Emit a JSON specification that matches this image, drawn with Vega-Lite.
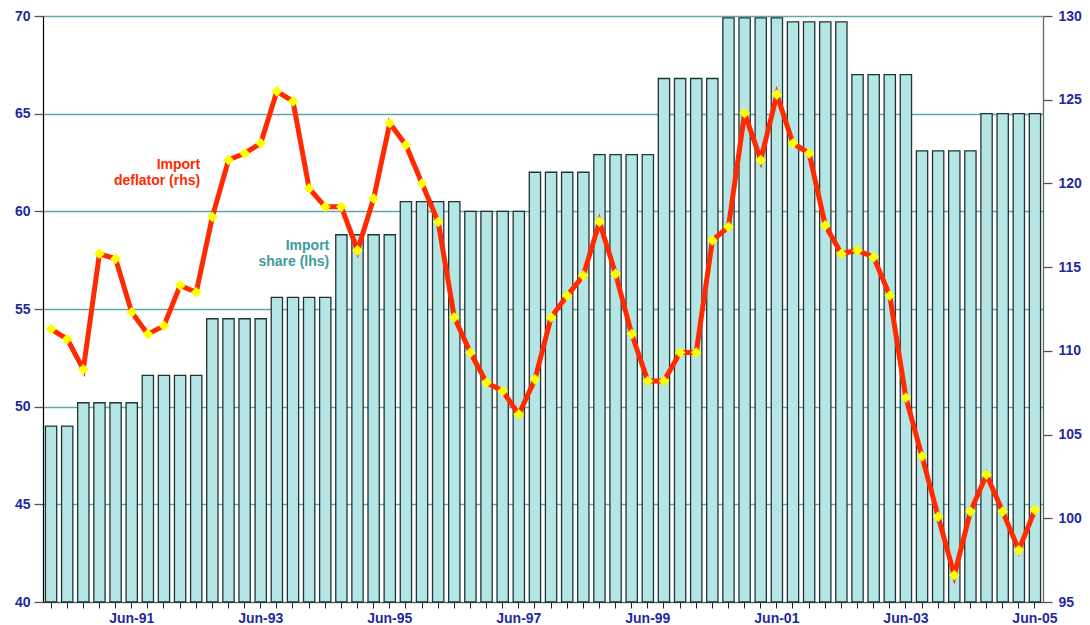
{
  "$schema": "https://vega.github.io/schema/vega-lite/v6.json",
  "width": 1000,
  "height": 586,
  "autosize": {"type": "none"},
  "padding": {"left": 43, "top": 16, "right": 47, "bottom": 23},
  "background": "white",
  "config": {
    "view": {"stroke": null},
    "font": "Liberation Sans",
    "axis": {"labelFont": "Liberation Sans", "labelFontWeight": "bold", "labelFontSize": 14, "labelColor": "#1f2a9c"}
  },
  "datasets": {
    "notes": [
      {"q": "Jun-92", "v": 62.36, "text": "Import\ndeflator (rhs)", "kind": "deflator"},
      {"q": "Jun-94", "v": 58.2, "text": "Import\nshare (lhs)", "kind": "share"}
    ]
  },
  "data": {
    "values": [
      {"q": "Mar-90", "share": 49.0, "deflator": 111.3},
      {"q": "Jun-90", "share": 49.0, "deflator": 110.7},
      {"q": "Sep-90", "share": 50.2, "deflator": 108.9},
      {"q": "Dec-90", "share": 50.2, "deflator": 115.8},
      {"q": "Mar-91", "share": 50.2, "deflator": 115.5},
      {"q": "Jun-91", "share": 50.2, "deflator": 112.3},
      {"q": "Sep-91", "share": 51.6, "deflator": 111.0},
      {"q": "Dec-91", "share": 51.6, "deflator": 111.5},
      {"q": "Mar-92", "share": 51.6, "deflator": 113.9},
      {"q": "Jun-92", "share": 51.6, "deflator": 113.5},
      {"q": "Sep-92", "share": 54.5, "deflator": 118.0},
      {"q": "Dec-92", "share": 54.5, "deflator": 121.4},
      {"q": "Mar-93", "share": 54.5, "deflator": 121.8},
      {"q": "Jun-93", "share": 54.5, "deflator": 122.4},
      {"q": "Sep-93", "share": 55.6, "deflator": 125.5},
      {"q": "Dec-93", "share": 55.6, "deflator": 124.9},
      {"q": "Mar-94", "share": 55.6, "deflator": 119.7},
      {"q": "Jun-94", "share": 55.6, "deflator": 118.6},
      {"q": "Sep-94", "share": 58.8, "deflator": 118.6},
      {"q": "Dec-94", "share": 58.8, "deflator": 116.0},
      {"q": "Mar-95", "share": 58.8, "deflator": 119.1},
      {"q": "Jun-95", "share": 58.8, "deflator": 123.6},
      {"q": "Sep-95", "share": 60.5, "deflator": 122.3},
      {"q": "Dec-95", "share": 60.5, "deflator": 120.0},
      {"q": "Mar-96", "share": 60.5, "deflator": 117.7},
      {"q": "Jun-96", "share": 60.5, "deflator": 112.0},
      {"q": "Sep-96", "share": 60.0, "deflator": 109.9},
      {"q": "Dec-96", "share": 60.0, "deflator": 108.1},
      {"q": "Mar-97", "share": 60.0, "deflator": 107.6},
      {"q": "Jun-97", "share": 60.0, "deflator": 106.2},
      {"q": "Sep-97", "share": 62.0, "deflator": 108.3},
      {"q": "Dec-97", "share": 62.0, "deflator": 112.0},
      {"q": "Mar-98", "share": 62.0, "deflator": 113.3},
      {"q": "Jun-98", "share": 62.0, "deflator": 114.5},
      {"q": "Sep-98", "share": 62.9, "deflator": 117.7},
      {"q": "Dec-98", "share": 62.9, "deflator": 114.6},
      {"q": "Mar-99", "share": 62.9, "deflator": 111.0},
      {"q": "Jun-99", "share": 62.9, "deflator": 108.2},
      {"q": "Sep-99", "share": 66.8, "deflator": 108.2},
      {"q": "Dec-99", "share": 66.8, "deflator": 109.9},
      {"q": "Mar-00", "share": 66.8, "deflator": 109.9},
      {"q": "Jun-00", "share": 66.8, "deflator": 116.6},
      {"q": "Sep-00", "share": 69.9, "deflator": 117.4},
      {"q": "Dec-00", "share": 69.9, "deflator": 124.2},
      {"q": "Mar-01", "share": 69.9, "deflator": 121.4},
      {"q": "Jun-01", "share": 69.9, "deflator": 125.3},
      {"q": "Sep-01", "share": 69.7, "deflator": 122.4},
      {"q": "Dec-01", "share": 69.7, "deflator": 121.8},
      {"q": "Mar-02", "share": 69.7, "deflator": 117.5},
      {"q": "Jun-02", "share": 69.7, "deflator": 115.8},
      {"q": "Sep-02", "share": 67.0, "deflator": 116.0},
      {"q": "Dec-02", "share": 67.0, "deflator": 115.6},
      {"q": "Mar-03", "share": 67.0, "deflator": 113.3},
      {"q": "Jun-03", "share": 67.0, "deflator": 107.2},
      {"q": "Sep-03", "share": 63.1, "deflator": 103.7},
      {"q": "Dec-03", "share": 63.1, "deflator": 100.1},
      {"q": "Mar-04", "share": 63.1, "deflator": 96.6},
      {"q": "Jun-04", "share": 63.1, "deflator": 100.4},
      {"q": "Sep-04", "share": 65.0, "deflator": 102.6},
      {"q": "Dec-04", "share": 65.0, "deflator": 100.4},
      {"q": "Mar-05", "share": 65.0, "deflator": 98.1},
      {"q": "Jun-05", "share": 65.0, "deflator": 100.5}
    ]
  },
  "encoding": {
    "x": {
      "field": "q",
      "type": "ordinal",
      "sort": null,
      "scale": {"paddingInner": 0.3, "paddingOuter": 0.15},
      "axis": {
        "title": null,
        "labelAngle": 0,
        "labelExpr": "indexof(['Jun-91','Jun-93','Jun-95','Jun-97','Jun-99','Jun-01','Jun-03','Jun-05'], datum.value) >= 0 ? datum.value : ''",
        "labelPadding": 3,
        "tickSize": 6,
        "tickColor": "#222222",
        "domainColor": "#555555",
        "domainWidth": 1,
        "grid": false
      }
    }
  },
  "layer": [
    {
      "mark": {"type": "bar", "fill": "#b5e5e5", "stroke": "#1f3535", "strokeWidth": 1.3},
      "encoding": {
        "y": {
          "field": "share",
          "type": "quantitative",
          "scale": {"domain": [40, 70], "nice": false, "zero": false},
          "axis": {
            "title": null,
            "orient": "left",
            "values": [40, 45, 50, 55, 60, 65, 70],
            "grid": true,
            "gridColor": "#5fa8a8",
            "gridWidth": 1.3,
            "domainColor": "#000000",
            "domainWidth": 1.2,
            "tickColor": "#555555",
            "tickSize": 9,
            "tickWidth": 1.3,
            "labelPadding": 4
          }
        },
        "y2": {"datum": 40}
      }
    },
    {
      "mark": {"type": "line", "color": "#ff2a00", "strokeWidth": 5},
      "encoding": {
        "y": {
          "field": "deflator",
          "type": "quantitative",
          "scale": {"domain": [95, 130], "nice": false, "zero": false},
          "axis": {
            "title": null,
            "orient": "right",
            "values": [95, 100, 105, 110, 115, 120, 125, 130],
            "grid": false,
            "domainColor": "#666666",
            "domainWidth": 1.3,
            "tickColor": "#555555",
            "tickSize": 9,
            "tickWidth": 1.3,
            "labelPadding": 6
          }
        }
      }
    },
    {
      "mark": {"type": "point", "shape": "diamond", "filled": true, "color": "#ffff00", "size": 115, "opacity": 1},
      "encoding": {
        "y": {"field": "deflator", "type": "quantitative", "scale": {"domain": [95, 130], "nice": false, "zero": false}, "axis": null}
      }
    },
    {
      "data": {"name": "notes"},
      "mark": {"type": "text", "align": "right", "baseline": "middle", "dx": 4, "fontSize": 14, "fontWeight": "bold", "lineBreak": "\n", "lineHeight": 16},
      "encoding": {
        "y": {"field": "v", "type": "quantitative", "scale": {"domain": [40, 70], "nice": false, "zero": false}, "axis": null},
        "text": {"field": "text"},
        "color": {"field": "kind", "type": "nominal", "scale": {"domain": ["deflator", "share"], "range": ["#ff2a00", "#3a9c9c"]}, "legend": null}
      }
    }
  ],
  "resolve": {"scale": {"y": "independent"}}
}
